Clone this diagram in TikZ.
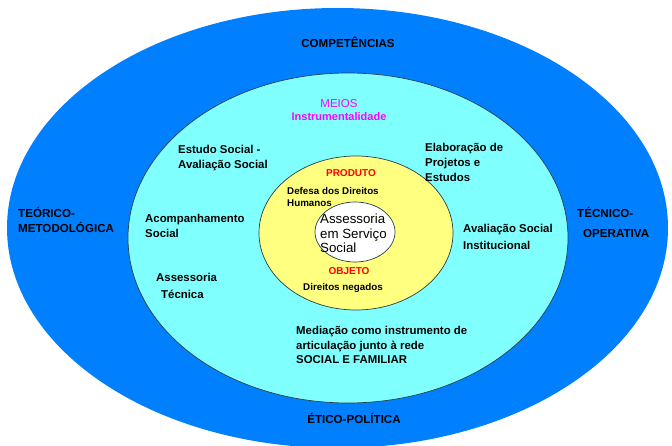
\documentclass[tikz,border=0pt]{standalone}
\usepackage{fontspec}
\setmainfont{Liberation Sans}
\definecolor{outerblue}{HTML}{0080FF}
\definecolor{midcyan}{HTML}{80FFFF}
\definecolor{inneryellow}{HTML}{FFFF80}
\definecolor{edgegray}{HTML}{263F4C}
\definecolor{meiosmag}{HTML}{FF00FF}
\definecolor{redlbl}{HTML}{FF0000}
\tikzset{
  ring/.style={draw=edgegray, line width=0.7pt},
  lbl/.style={inner sep=0pt, anchor=west, align=left, font=\bfseries\fontsize{11.4}{15}\selectfont},
  caplbl/.style={inner sep=0pt, align=left, font=\bfseries\fontsize{11.6}{15}\selectfont},
  smalllbl/.style={inner sep=0pt, anchor=west, align=left, font=\bfseries\fontsize{9.8}{12}\selectfont},
  redtitle/.style={inner sep=0pt, text=redlbl, font=\bfseries\fontsize{10}{12}\selectfont},
}
\begin{document}
\begin{tikzpicture}[x=1pt,y=-1pt]
\useasboundingbox (0,0) rectangle (672,446);
\begin{scope}
\clip (0,0) rectangle (672,446);
\fill[outerblue] (337.5,228) ellipse [x radius=330.5, y radius=220];
\end{scope}
\filldraw[ring, fill=midcyan] (348,238) ellipse [x radius=220, y radius=165];
\filldraw[ring, fill=inneryellow] (356,233) ellipse [x radius=97, y radius=77];
\filldraw[ring, fill=white] (355,232) ellipse [x radius=40, y radius=30];

% outer ring labels
\node[caplbl] (comp) at (348,42) {COMPETÊNCIAS};
\node[caplbl] (etico) at (354,418) {ÉTICO-POLÍTICA};
\node[caplbl, anchor=west] (teorico) at (18,220) {TEÓRICO-\\METODOLÓGICA};
\node[caplbl, anchor=west, font=\bfseries\fontsize{11.6}{20}\selectfont] (tecnico) at (577,222) {TÉCNICO-\\\hspace*{6pt}OPERATIVA};

% middle ring labels
\node[inner sep=0pt, align=center, text=meiosmag, font=\fontsize{11.5}{13}\selectfont] (meios) at (339,110)
  {MEIOS\\{\bfseries\fontsize{11}{13}\selectfont Instrumentalidade}};
\node[lbl] (estudo) at (178,158) {Estudo Social -\\Avaliação Social};
\node[lbl] (elab) at (425,162) {Elaboração de\\Projetos e\\Estudos};
\node[lbl] (acomp) at (145,225.5) {Acompanhamento\\Social};
\node[lbl, font=\bfseries\fontsize{11.4}{17}\selectfont] (avinst) at (463,236.5) {Avaliação Social\\Institucional};
\node[lbl, font=\bfseries\fontsize{11.4}{17}\selectfont] (asstec) at (156,285.5) {Assessoria\\\hspace*{5pt}Técnica};
\node[lbl, font=\bfseries\fontsize{11.4}{14.5}\selectfont] (media) at (296,345)
  {Mediação como instrumento de\\articulação junto à rede\\SOCIAL E FAMILIAR};

% inner ring labels
\node[redtitle] (produto) at (351,173) {PRODUTO};
\node[smalllbl] (defesa) at (287,197) {Defesa dos Direitos\\Humanos};
\node[redtitle] (objeto) at (349,271) {OBJETO};
\node[smalllbl] (negados) at (303,288) {Direitos negados};

% centre
\node[inner sep=0pt, anchor=west, align=left, font=\fontsize{13.3}{14.5}\selectfont] (assess) at (320,233.5)
  {Assessoria\\em Serviço\\Social};
\end{tikzpicture}
\end{document}
